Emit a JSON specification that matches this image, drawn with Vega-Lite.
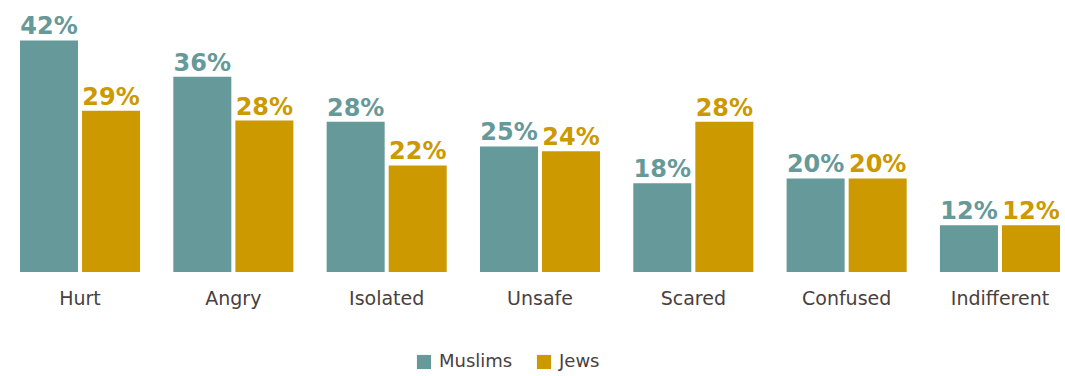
{
  "$schema": "https://vega.github.io/schema/vega-lite/v6.json",
  "width": 1040,
  "height": 272,
  "autosize": "none",
  "padding": {"left": 20, "top": 0, "right": 5, "bottom": 104},
  "background": "white",
  "config": {"view": {"stroke": null}, "font": "DejaVu Sans"},
  "data": {"values": [
    {"emotion": "Hurt", "group": "Muslims", "value": 42.0, "label": "42%"},
    {"emotion": "Hurt", "group": "Jews", "value": 30.6, "label": "29%"},
    {"emotion": "Angry", "group": "Muslims", "value": 36.1, "label": "36%"},
    {"emotion": "Angry", "group": "Jews", "value": 29.0, "label": "28%"},
    {"emotion": "Isolated", "group": "Muslims", "value": 28.8, "label": "28%"},
    {"emotion": "Isolated", "group": "Jews", "value": 21.7, "label": "22%"},
    {"emotion": "Unsafe", "group": "Muslims", "value": 24.8, "label": "25%"},
    {"emotion": "Unsafe", "group": "Jews", "value": 24.0, "label": "24%"},
    {"emotion": "Scared", "group": "Muslims", "value": 18.8, "label": "18%"},
    {"emotion": "Scared", "group": "Jews", "value": 28.8, "label": "28%"},
    {"emotion": "Confused", "group": "Muslims", "value": 19.6, "label": "20%"},
    {"emotion": "Confused", "group": "Jews", "value": 19.6, "label": "20%"},
    {"emotion": "Indifferent", "group": "Muslims", "value": 12.0, "label": "12%"},
    {"emotion": "Indifferent", "group": "Jews", "value": 12.0, "label": "12%"}
  ]},
  "encoding": {
    "x": {
      "field": "emotion", "type": "nominal",
      "sort": ["Hurt", "Angry", "Isolated", "Unsafe", "Scared", "Confused", "Indifferent"],
      "scale": {"paddingInner": 0.217, "paddingOuter": 0},
      "axis": {"title": null, "labelAngle": 0, "domain": false, "ticks": false, "labelFontSize": 19, "labelColor": "#4a403d", "labelPadding": 17, "labelFont": "DejaVu Sans"}
    },
    "xOffset": {"field": "group", "type": "nominal", "sort": ["Muslims", "Jews"], "scale": {"paddingInner": 0.065, "paddingOuter": 0}},
    "y": {"field": "value", "type": "quantitative", "scale": {"domain": [4.4, 48.57], "nice": false, "zero": false}, "axis": null},
    "color": {
      "field": "group", "type": "nominal", "sort": ["Muslims", "Jews"],
      "scale": {"domain": ["Muslims", "Jews"], "range": ["#669999", "#cc9900"]},
      "legend": {"title": null, "orient": "none", "legendX": 395, "legendY": 353, "direction": "horizontal", "symbolType": "square", "symbolSize": 200, "symbolStrokeWidth": 0, "labelFontSize": 18, "labelColor": "#4a403d", "columnPadding": 22, "labelOffset": 6}
    }
  },
  "layer": [
    {"mark": {"type": "bar"}, "encoding": {"y2": {"datum": 4.4}}},
    {
      "mark": {"type": "text", "baseline": "alphabetic", "dy": -6, "fontSize": 24, "fontWeight": "bold", "font": "DejaVu Sans"},
      "encoding": {"text": {"field": "label", "type": "nominal"}}
    }
  ]
}
